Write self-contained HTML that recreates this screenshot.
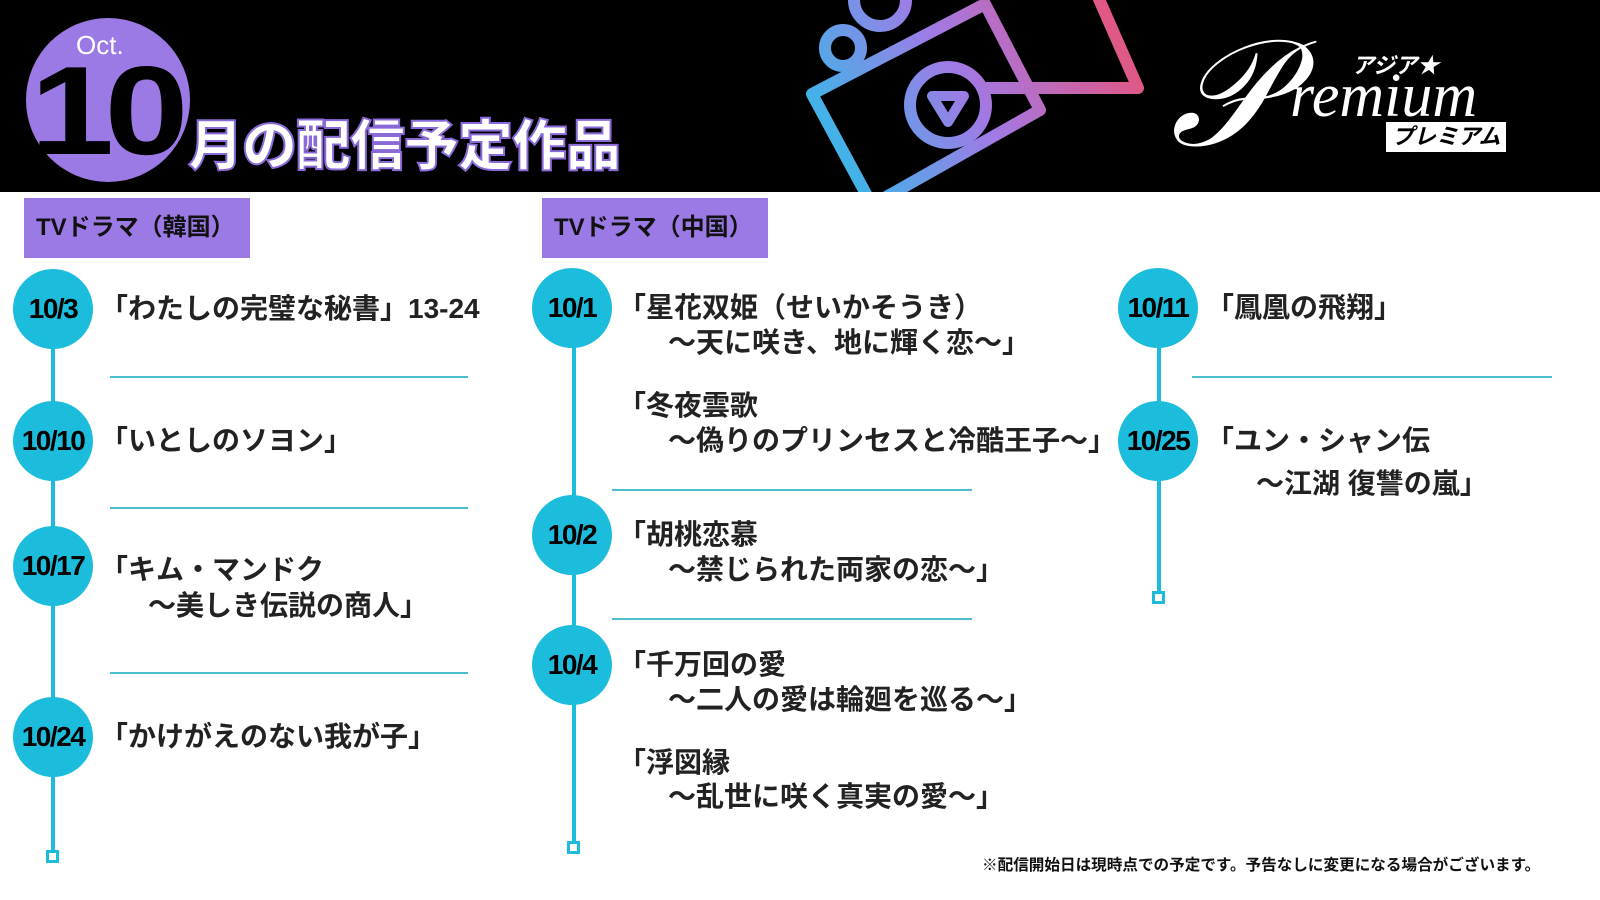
<!DOCTYPE html>
<html><head><meta charset="utf-8">
<style>
*{margin:0;padding:0;box-sizing:border-box}
body{width:1600px;height:900px;background:#fff;position:relative;overflow:hidden;font-family:"Liberation Sans","Noto Sans CJK JP",sans-serif}
.hdr{position:absolute;left:0;top:0;width:1600px;height:192px;background:#000}
.t{position:absolute;font-size:28px;font-weight:bold;color:#222;line-height:34px;white-space:nowrap}
.d{position:absolute;width:80px;height:80px;border-radius:50%;background:#1bbcdc;color:#000;font-weight:900;font-size:28px;line-height:80px;text-align:center;letter-spacing:-1.5px;white-space:nowrap}
.v{position:absolute;width:4px;background:#1bbcdc}
.sq{position:absolute;width:13px;height:13px;border:3px solid #1bbcdc;background:#fff}
.h{position:absolute;height:1.5px;background:#4bbfd0}
.tag{position:absolute;background:#9b7ae6;height:60px;font-size:24px;font-weight:bold;color:#111;line-height:60px;padding-left:12px}
</style></head><body>
<div class="hdr"></div>
<div style="position:absolute;left:26px;top:18px;width:164px;height:164px;border-radius:50%;background:#9b7ae6"></div>
<div style="position:absolute;left:76px;top:30px;color:#fff;font-size:26px">Oct.</div>
<div style="position:absolute;left:30px;top:48px;color:#000;font-size:126px;font-weight:900;letter-spacing:-8px;line-height:126px;transform:scaleX(1.2);transform-origin:left">10</div>
<div style="position:absolute;left:188px;top:110px;color:#fff;font-size:55px;font-weight:900;line-height:72px;-webkit-text-stroke:2px #8a6ad8;letter-spacing:-1px">月の配信予定作品</div>
<svg style="position:absolute;left:0;top:0" width="1200" height="192">
<defs><linearGradient id="g" x1="800" y1="190" x2="1140" y2="0" gradientUnits="userSpaceOnUse"><stop offset="0" stop-color="#1ec8e8"/><stop offset="0.5" stop-color="#a17ae6"/><stop offset="1" stop-color="#f0506e"/></linearGradient></defs>
<g fill="none" stroke="url(#g)" stroke-width="12" stroke-linejoin="round">
<polyline points="1095,-10 1138,88 985,88"/>
<polygon points="812,94 985,4 1040,110 872,205"/>
<circle cx="843" cy="48" r="18"/>
<circle cx="880" cy="0" r="26"/>
<circle cx="948" cy="105" r="38"/>
<polygon points="932,96 964,96 948,122" stroke-width="10"/>
</g></svg>
<div style="position:absolute;left:1170px;top:20px;color:#fff;font-family:'Liberation Serif',serif;font-style:italic;font-size:150px;line-height:150px">𝒫</div>
<div style="position:absolute;left:1290px;top:64px;color:#fff;font-family:'Liberation Serif',serif;font-style:italic;font-size:62px;line-height:64px">remium</div>
<div style="position:absolute;left:1352px;top:48px;color:#fff;font-size:22px;font-weight:bold;font-style:italic">アジア★</div>
<div style="position:absolute;left:1386px;top:122px;background:#fff;color:#000;font-size:22px;font-weight:bold;font-style:italic;padding:0 6px;line-height:30px">プレミアム</div>

<div class="tag" style="left:24px;top:198px;width:226px">TVドラマ（韓国）</div>
<div class="tag" style="left:542px;top:198px;width:226px">TVドラマ（中国）</div>

<!-- left -->
<div class="v" style="left:51px;top:309px;height:544px"></div>
<div class="sq" style="left:46px;top:850px"></div>
<div class="d" style="left:13px;top:269px">10/3</div>
<div class="d" style="left:13px;top:401px">10/10</div>
<div class="d" style="left:13px;top:526px">10/17</div>
<div class="d" style="left:13px;top:697px">10/24</div>
<div class="h" style="left:110px;top:376px;width:358px"></div>
<div class="h" style="left:110px;top:507px;width:358px"></div>
<div class="h" style="left:110px;top:672px;width:358px"></div>
<div class="t" style="left:100px;top:292px">「わたしの完璧な秘書」13-24</div>
<div class="t" style="left:100px;top:424px">「いとしのソヨン」</div>
<div class="t" style="left:100px;top:553px">「キム・マンドク</div>
<div class="t" style="left:148px;top:589px">～美しき伝説の商人」</div>
<div class="t" style="left:100px;top:720px">「かけがえのない我が子」</div>

<!-- middle -->
<div class="v" style="left:572px;top:308px;height:536px"></div>
<div class="sq" style="left:567px;top:841px"></div>
<div class="d" style="left:532px;top:268px">10/1</div>
<div class="d" style="left:532px;top:495px">10/2</div>
<div class="d" style="left:532px;top:625px">10/4</div>
<div class="h" style="left:612px;top:489px;width:360px"></div>
<div class="h" style="left:612px;top:618px;width:360px"></div>
<div class="t" style="left:618px;top:291px">「星花双姫（せいかそうき）</div>
<div class="t" style="left:668px;top:326px">～天に咲き、地に輝く恋～」</div>
<div class="t" style="left:618px;top:389px">「冬夜雲歌</div>
<div class="t" style="left:668px;top:424px">～偽りのプリンセスと冷酷王子～」</div>
<div class="t" style="left:618px;top:518px">「胡桃恋慕</div>
<div class="t" style="left:668px;top:553px">～禁じられた両家の恋～」</div>
<div class="t" style="left:618px;top:648px">「千万回の愛</div>
<div class="t" style="left:668px;top:683px">～二人の愛は輪廻を巡る～」</div>
<div class="t" style="left:618px;top:746px">「浮図縁</div>
<div class="t" style="left:668px;top:780px">～乱世に咲く真実の愛～」</div>

<!-- right -->
<div class="v" style="left:1157px;top:308px;height:285px"></div>
<div class="sq" style="left:1152px;top:591px"></div>
<div class="d" style="left:1118px;top:268px">10/11</div>
<div class="d" style="left:1118px;top:401px">10/25</div>
<div class="h" style="left:1192px;top:376px;width:360px"></div>
<div class="t" style="left:1206px;top:291px">「鳳凰の飛翔」</div>
<div class="t" style="left:1206px;top:424px">「ユン・シャン伝</div>
<div class="t" style="left:1256px;top:467px">～江湖 復讐の嵐」</div>

<div style="position:absolute;left:982px;top:853px;font-size:15.6px;font-weight:bold;color:#111;white-space:nowrap">※配信開始日は現時点での予定です。予告なしに変更になる場合がございます。</div>
</body></html>
